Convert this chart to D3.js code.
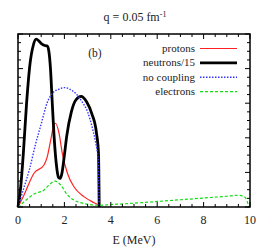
<!DOCTYPE html>
<html lang="en">
<head>
    <meta charset="UTF-8">
    <title>q = 0.05 fm-1</title>
    <script src="https://d3js.org/d3.v7.min.js"></script>
    <style>
        body { margin: 0; background: #fff; }
    </style>
</head>
<body>
    <div id="chart"></div>
    <script>
        // energies (MeV) and normalized strengths
        const neutronE = [0, 0.12, 0.23, 0.37, 0.52, 0.66, 0.78, 0.9, 1.0, 1.12, 1.26, 1.33, 1.4, 1.47, 1.55, 1.65, 1.75, 1.82, 1.9, 2.0, 2.1, 2.3, 2.5, 2.72, 2.95, 3.18, 3.38, 3.47, 3.5];
        const neutronV = [0, 0.12, 0.31, 0.6, 0.83, 0.935, 0.97, 0.96, 0.945, 0.935, 0.93, 0.9, 0.8, 0.62, 0.42, 0.25, 0.17, 0.165, 0.2, 0.3, 0.41, 0.55, 0.62, 0.64, 0.61, 0.54, 0.43, 0.31, 0];

        const nocoupE = [0, 0.25, 0.5, 0.75, 1.0, 1.25, 1.5, 1.75, 2.0, 2.25, 2.5, 2.75, 3.0, 3.2, 3.35, 3.45, 3.5];
        const nocoupV = [0, 0.11, 0.22, 0.36, 0.48, 0.6, 0.66, 0.68, 0.69, 0.68, 0.655, 0.61, 0.55, 0.46, 0.37, 0.28, 0];

        const protonE = [0, 0.26, 0.69, 1.12, 1.26, 1.41, 1.55, 1.62, 1.77, 1.91, 2.13, 2.41, 2.84, 3.28, 3.5];
        const protonV = [0, 0.07, 0.195, 0.243, 0.29, 0.387, 0.474, 0.484, 0.426, 0.31, 0.195, 0.117, 0.06, 0.025, 0.01];

        const electronE = [0, 0.26, 0.69, 1.12, 1.34, 1.6, 1.84, 2.13, 2.41, 2.84, 3.5, 4.0, 5.0, 6.0, 7.0, 8.0, 9.0, 9.5, 9.7, 9.85, 9.95];
        const electronV = [0, 0.03, 0.075, 0.098, 0.127, 0.15, 0.127, 0.07, 0.04, 0.02, 0.01, 0.014, 0.022, 0.032, 0.042, 0.052, 0.062, 0.068, 0.063, 0.042, 0];

        const xTicks = [0, 2, 4, 6, 8, 10];

        const series = [
            { name: "protons", e: protonE, v: protonV, color: "#f22", width: 1.2, dash: null },
            { name: "neutrons/15", e: neutronE, v: neutronV, color: "#000", width: 2.8, dash: null },
            { name: "no coupling", e: nocoupE, v: nocoupV, color: "#33f", width: 1.4, dash: "1.5,1.5" },
            { name: "electrons", e: electronE, v: electronV, color: "#1d1", width: 1.2, dash: "3,2" }
        ];

        const W = 273, H = 247;
        const margin = { left: 18, right: 23, top: 34, bottom: 40 };
        const serif = "'Liberation Serif', 'Times New Roman', Times, 'DejaVu Serif', serif";

        const svg = d3.select("#chart").append("svg")
            .attr("width", W).attr("height", H)
            .attr("font-family", serif);

        const x = d3.scaleLinear().domain([0, 10]).range([margin.left, W - margin.right]);
        const y = d3.scaleLinear().domain([0, 1]).range([H - margin.bottom, margin.top]);

        // 标题
        const title = svg.append("text")
            .attr("x", 135).attr("y", 21)
            .attr("text-anchor", "middle")
            .attr("font-size", 12)
            .attr("fill", "#222")
            .text("q = 0.05 fm");
        title.append("tspan").attr("dy", -4).attr("font-size", 8).text("-1");

        // data lines
        const line = d3.line()
            .x(d => x(d[0]))
            .y(d => y(d[1]))
            .curve(d3.curveMonotoneX);

        const plot = svg.append("g");
        series.forEach(s => {
            plot.append("path")
                .datum(s.e.map((e, i) => [e, s.v[i]]))
                .attr("fill", "none")
                .attr("stroke", s.color)
                .attr("stroke-width", s.width)
                .attr("stroke-dasharray", s.dash)
                .attr("stroke-linejoin", "round")
                .attr("d", line);
        });

        // ticks on all four sides, pointing in
        const x0 = x(0), x1 = x(10), y0 = y(0), y1 = y(1);
        const ticks = svg.append("g").attr("stroke", "#000").attr("stroke-width", 1);
        d3.range(0, 10.01, 0.5).forEach(v => {
            const len = (v % 2 === 0) ? 5 : 3;
            ticks.append("line").attr("x1", x(v)).attr("x2", x(v)).attr("y1", y0).attr("y2", y0 - len);
            ticks.append("line").attr("x1", x(v)).attr("x2", x(v)).attr("y1", y1).attr("y2", y1 + len);
        });
        d3.range(0, 1.001, 0.05).forEach((v, i) => {
            const len = (i % 4 === 0) ? 5 : 3;
            ticks.append("line").attr("x1", x0).attr("x2", x0 + len).attr("y1", y(v)).attr("y2", y(v));
            ticks.append("line").attr("x1", x1).attr("x2", x1 - len).attr("y1", y(v)).attr("y2", y(v));
        });

        // frame
        svg.append("rect")
            .attr("x", x0).attr("y", y1)
            .attr("width", x1 - x0).attr("height", y0 - y1)
            .attr("fill", "none").attr("stroke", "#000").attr("stroke-width", 1.5);

        // x axis labels
        svg.append("g").selectAll("text")
            .data(xTicks)
            .enter().append("text")
            .attr("x", d => x(d)).attr("y", 224)
            .attr("text-anchor", "middle")
            .attr("font-size", 12)
            .attr("fill", "#222")
            .text(d => d);

        svg.append("text")
            .attr("x", 134).attr("y", 244)
            .attr("text-anchor", "middle")
            .attr("font-size", 12)
            .attr("fill", "#222")
            .text("E (MeV)");

        svg.append("text")
            .attr("x", 95).attr("y", 57)
            .attr("text-anchor", "middle")
            .attr("font-size", 11.5)
            .attr("fill", "#222")
            .text("(b)");

        // legend
        const legend = svg.append("g");
        series.forEach((s, i) => {
            const ly = 48.5 + i * 14.4;
            legend.append("text")
                .attr("x", 195).attr("y", ly + 3.5)
                .attr("text-anchor", "end")
                .attr("font-size", 11)
                .attr("fill", "#222")
                .text(s.name);
            legend.append("line")
                .attr("x1", 200).attr("x2", 237)
                .attr("y1", ly).attr("y2", ly)
                .attr("stroke", s.color)
                .attr("stroke-width", s.width)
                .attr("stroke-dasharray", s.dash);
        });
    </script>
</body>
</html>
